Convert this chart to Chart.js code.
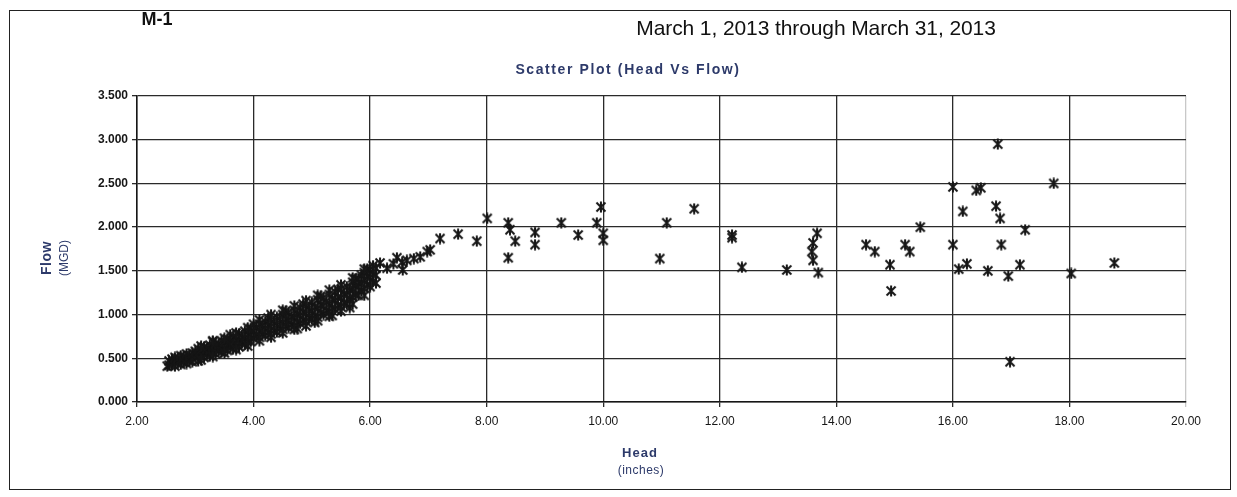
<!DOCTYPE html>
<html>
<head>
<meta charset="utf-8">
<title>M-1 Head vs Flow</title>
<script src="https://cdn.jsdelivr.net/npm/chart.js@4.4.1/dist/chart.umd.min.js"></script>
<style>
  html, body { margin: 0; padding: 0; background: #fff; }
  #wrap { position: relative; width: 1237px; height: 497px; overflow: hidden; font-family: "Liberation Sans", Arial, sans-serif; }
  #frame { position: absolute; left: 9px; top: 10px; width: 1222px; height: 480px; border: 1.5px solid #222; box-sizing: border-box; pointer-events: none; }
  .lbl { position: absolute; white-space: nowrap; transform: translate(-50%, -50%); }
  .navy { color: #2d3a6a; }
</style>
</head>
<body>
<div id="wrap">
  <canvas id="chart"></canvas>
  <div id="frame"></div>
  <div class="lbl" style="left:157px; top:19px; font-weight:bold; font-size:18px; color:#111;">M-1</div>
  <div class="lbl" style="left:816px; top:28px; font-size:21px; letter-spacing:-0.1px; color:#111;">March 1, 2013 through March 31, 2013</div>
  <div class="lbl navy" style="left:628px; top:69px; font-weight:bold; font-size:14px; letter-spacing:1.6px;">Scatter Plot (Head Vs Flow)</div>
  <div class="lbl navy" style="left:46px; top:258px; font-weight:bold; font-size:14px; letter-spacing:0.5px; transform: translate(-50%, -50%) rotate(-90deg);">Flow</div>
  <div class="lbl navy" style="left:64px; top:258px; font-size:12px; transform: translate(-50%, -50%) rotate(-90deg);">(MGD)</div>
  <div class="lbl navy" style="left:640px; top:452px; font-weight:bold; font-size:13px; letter-spacing:1px;">Head</div>
  <div class="lbl navy" style="left:641px; top:470px; font-size:12px; letter-spacing:0.5px;">(inches)</div>
</div>
<script>
// Head (inches) readings for the month
const headInches = [
  // dense low-head band
  2.52, 2.55, 2.55, 2.60, 2.60, 2.65, 2.65, 2.65, 2.70, 2.70, 2.75, 2.75, 2.75,
  2.80, 2.80, 2.85, 2.85, 2.85, 2.90, 2.90, 2.95, 2.95, 2.95, 3.00, 3.00,
  3.05, 3.05, 3.05, 3.10, 3.10, 3.15, 3.15, 3.15, 3.20, 3.20, 3.25, 3.25, 3.25,
  3.30, 3.30, 3.30, 3.35, 3.35, 3.35, 3.40, 3.40, 3.45, 3.45, 3.45, 3.50, 3.50,
  3.55, 3.55, 3.55, 3.60, 3.60, 3.60, 3.65, 3.65, 3.65, 3.70, 3.70, 3.75, 3.75, 3.75,
  3.80, 3.80, 3.85, 3.85, 3.85, 3.90, 3.90, 3.95, 3.95, 3.95, 4.00, 4.00, 4.00,
  4.05, 4.05, 4.10, 4.10, 4.10, 4.15, 4.15, 4.20, 4.20, 4.20, 4.25, 4.25, 4.25,
  4.30, 4.30, 4.30, 4.35, 4.35, 4.40, 4.40, 4.40, 4.45, 4.45, 4.50, 4.50, 4.50,
  4.55, 4.55, 4.55, 4.60, 4.60, 4.60, 4.65, 4.65, 4.70, 4.70, 4.70, 4.75, 4.75, 4.75,
  4.80, 4.80, 4.80, 4.85, 4.85, 4.85, 4.90, 4.90, 4.90, 4.95, 4.95, 5.00, 5.00, 5.00,
  5.05, 5.05, 5.05, 5.10, 5.10, 5.10, 5.15, 5.15, 5.15, 5.20, 5.20, 5.20, 5.25, 5.25,
  5.30, 5.30, 5.30, 5.35, 5.35, 5.35, 5.40, 5.40, 5.40, 5.45, 5.45, 5.45, 5.50, 5.50, 5.50,
  5.55, 5.55, 5.60, 5.60, 5.60, 5.65, 5.65, 5.65, 5.70, 5.70, 5.70, 5.75, 5.75, 5.75,
  5.80, 5.80, 5.80, 5.85, 5.85, 5.85, 5.90, 5.90, 5.90, 5.95, 5.95, 5.95,
  6.00, 6.00, 6.00, 6.05, 6.05, 6.05, 6.10, 6.10, 6.10,
  // outer edge of the band
  3.10, 3.10, 3.30, 3.30, 3.50, 3.50, 3.70, 3.70, 3.90, 3.90, 4.10, 4.10,
  4.30, 4.30, 4.50, 4.50, 4.70, 4.70, 4.90, 4.90, 5.10, 5.10, 5.30, 5.30,
  5.50, 5.50, 5.70, 5.70, 5.90, 5.90,
  // sparse points leaving the band
  6.17, 6.29, 6.40, 6.46, 6.55, 6.56, 6.63, 6.75, 6.86, 6.98, 7.03, 7.20,
  7.51, 7.83, 8.01, 8.37, 8.40, 8.49, 8.37, 8.83, 8.83, 9.28, 9.57, 9.89,
  9.96, 10.00, 10.00, 10.97, 11.09, 11.56, 12.21, 12.21, 12.38, 13.15,
  13.67, 13.60, 13.58, 13.60, 13.69, 14.51, 14.66, 14.92, 14.94, 15.18,
  15.26, 15.44, 16.00, 16.00, 16.10, 16.17, 16.24, 16.40, 16.48, 16.60,
  16.74, 16.77, 16.81, 16.83, 16.95, 16.98, 17.15, 17.24, 17.73, 18.03, 18.77
];

// Flow (MGD), one value per head reading
const flowMgd = [
  0.41, 0.42, 0.47, 0.44, 0.49, 0.41, 0.46, 0.51, 0.45, 0.50, 0.43, 0.48, 0.53,
  0.46, 0.52, 0.44, 0.49, 0.55, 0.47, 0.53, 0.46, 0.50, 0.56, 0.52, 0.58,
  0.47, 0.55, 0.61, 0.53, 0.59, 0.51, 0.57, 0.63, 0.55, 0.61, 0.53, 0.59, 0.65,
  0.57, 0.63, 0.69, 0.55, 0.61, 0.67, 0.59, 0.66, 0.57, 0.63, 0.70, 0.61, 0.68,
  0.59, 0.65, 0.72, 0.63, 0.70, 0.77, 0.61, 0.67, 0.74, 0.66, 0.72, 0.63, 0.70, 0.78,
  0.68, 0.75, 0.66, 0.73, 0.81, 0.70, 0.78, 0.69, 0.76, 0.84, 0.73, 0.81, 0.89,
  0.76, 0.85, 0.74, 0.81, 0.89, 0.78, 0.87, 0.76, 0.84, 0.92, 0.80, 0.88, 0.96,
  0.78, 0.86, 0.94, 0.82, 0.91, 0.80, 0.88, 0.97, 0.85, 0.94, 0.83, 0.91, 1.00,
  0.87, 0.95, 1.04, 0.85, 0.93, 1.02, 0.89, 0.98, 0.87, 0.96, 1.05, 0.84, 0.92, 1.01,
  0.90, 0.99, 1.08, 0.94, 1.03, 1.12, 0.92, 1.01, 1.10, 0.97, 1.07, 0.95, 1.04, 1.14,
  0.91, 0.99, 1.09, 0.97, 1.07, 1.17, 1.02, 1.11, 1.21, 1.00, 1.10, 1.19, 1.05, 1.15,
  1.03, 1.12, 1.23, 0.99, 1.08, 1.18, 1.06, 1.16, 1.26, 1.11, 1.20, 1.29, 1.09, 1.19, 1.29,
  1.14, 1.24, 1.12, 1.22, 1.32, 1.08, 1.18, 1.28, 1.20, 1.30, 1.37, 1.23, 1.33, 1.41,
  1.22, 1.32, 1.41, 1.27, 1.36, 1.45, 1.30, 1.40, 1.48, 1.34, 1.44, 1.52,
  1.32, 1.42, 1.51, 1.38, 1.47, 1.56, 1.36, 1.45, 1.53,
  0.48, 0.64, 0.52, 0.70, 0.56, 0.73, 0.60, 0.79, 0.64, 0.85, 0.70, 0.94,
  0.74, 1.00, 0.79, 1.05, 0.83, 1.10, 0.87, 1.16, 0.93, 1.22, 0.98, 1.28,
  1.04, 1.34, 1.12, 1.42, 1.22, 1.52,
  1.59, 1.53, 1.58, 1.65, 1.60, 1.51, 1.62, 1.64, 1.66, 1.72, 1.74, 1.87,
  1.92, 1.84, 2.10, 2.05, 1.97, 1.84, 1.65, 1.94, 1.80, 2.05, 1.91, 2.05,
  2.23, 1.93, 1.85, 1.64, 2.05, 2.21, 1.91, 1.88, 1.54, 1.51,
  1.93, 1.82, 1.72, 1.62, 1.48, 1.80, 1.72, 1.57, 1.27, 1.80,
  1.72, 2.00, 2.46, 1.80, 1.52, 2.18, 1.58, 2.42, 2.45, 1.50,
  2.24, 2.95, 2.10, 1.80, 1.44, 0.46, 1.57, 1.97, 2.50, 1.47, 1.59
];

const xTicks = [2, 4, 6, 8, 10, 12, 14, 16, 18, 20];
const yTicks = [0, 0.5, 1.0, 1.5, 2.0, 2.5, 3.0, 3.5];

const INK = "#161616";

// star marker: an "x" with a vertical stroke through it
function starMarker(size) {
  const c = document.createElement("canvas");
  c.width = size;
  c.height = size;
  const g = c.getContext("2d");
  const a = 1.5, b = size - 1.5, m = size / 2;
  g.strokeStyle = INK;
  g.lineWidth = 2;
  g.beginPath();
  g.moveTo(a, a); g.lineTo(b, b);
  g.moveTo(b, a); g.lineTo(a, b);
  g.moveTo(m, 0.5); g.lineTo(m, size - 0.5);
  g.stroke();
  return c;
}

const points = headInches.map((h, i) => ({ x: h, y: flowMgd[i] }));

new Chart(document.getElementById("chart"), {
  type: "scatter",
  data: {
    datasets: [{
      label: "Head Vs Flow",
      data: points,
      pointStyle: starMarker(12),
      pointRadius: 6,
    }],
  },
  options: {
    responsive: true,
    maintainAspectRatio: false,
    animation: false,
    layout: { padding: { top: 96, right: 51, bottom: 0, left: 0 } },
    plugins: {
      legend: { display: false },
      tooltip: { enabled: false },
    },
    scales: {
      x: {
        type: "linear",
        min: 2,
        max: 20,
        afterBuildTicks: (s) => { s.ticks = xTicks.map((v) => ({ value: v })); },
        afterFit: (s) => { s.height = 95; },
        ticks: {
          color: INK,
          padding: 7,
          font: { family: "'Liberation Sans', Arial, sans-serif", size: 12 },
          callback: (v) => Number(v).toFixed(2),
          maxRotation: 0,
        },
        grid: {
          color: (ctx) => (ctx.tick && ctx.tick.value === 20 ? "#c8c8c8" : "#2a2a2a"),
          lineWidth: 1.3,
          tickLength: 5,
        },
        border: { display: true, color: INK, width: 1.5 },
      },
      y: {
        min: 0,
        max: 3.5,
        afterBuildTicks: (s) => { s.ticks = yTicks.map((v) => ({ value: v })); },
        afterFit: (s) => { s.width = 137; },
        ticks: {
          color: INK,
          padding: 4,
          font: { family: "'Liberation Sans', Arial, sans-serif", size: 12, weight: "bold" },
          callback: (v) => Number(v).toFixed(3),
        },
        grid: { color: "#2a2a2a", lineWidth: 1.3, tickLength: 5 },
        border: { display: true, color: INK, width: 1.5 },
      },
    },
  },
});
</script>
</body>
</html>
